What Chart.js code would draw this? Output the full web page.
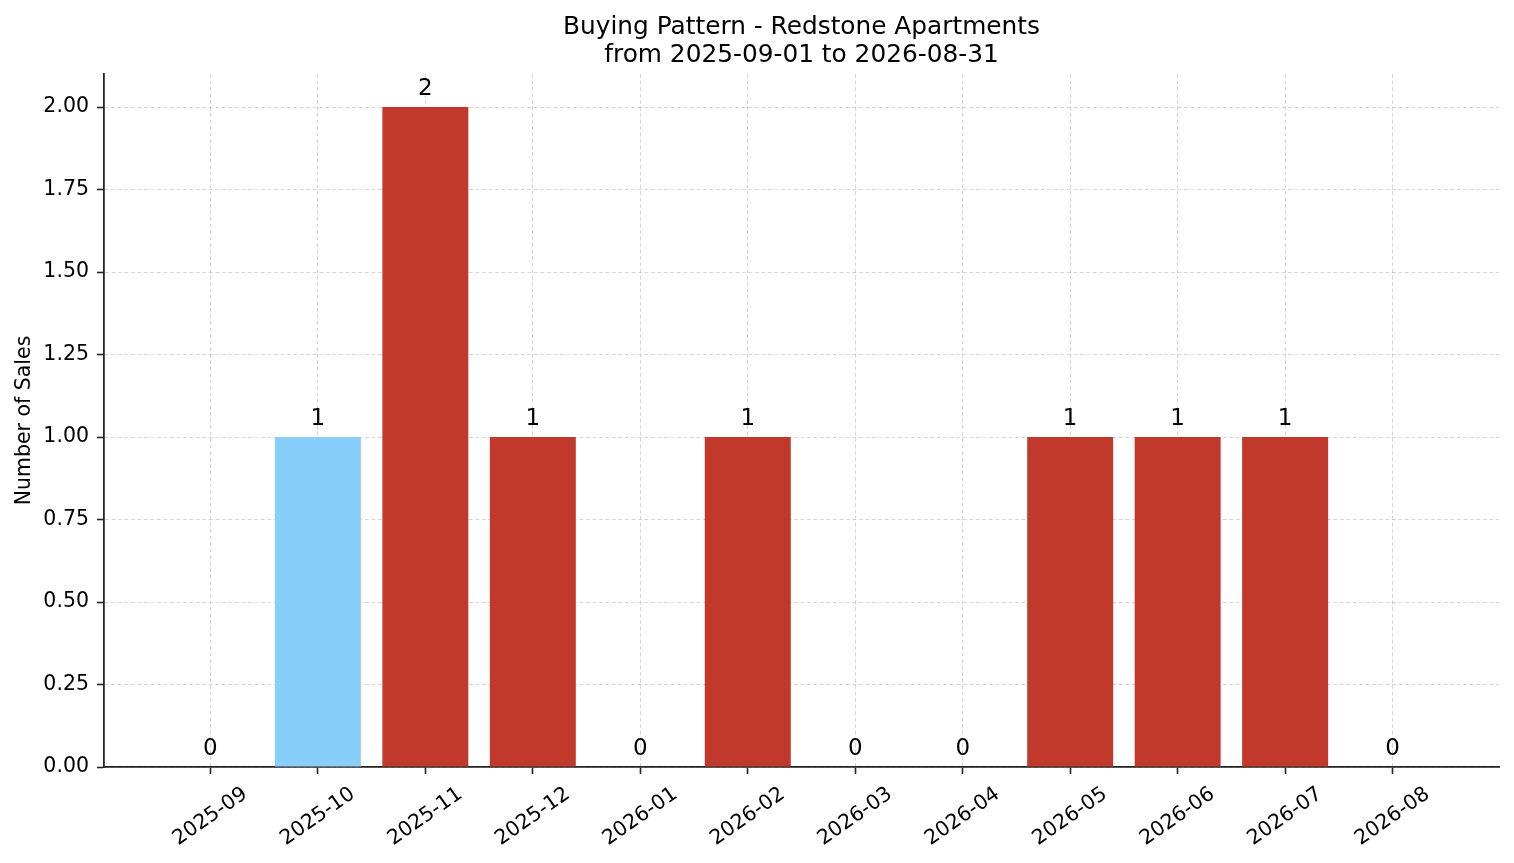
<!DOCTYPE html>
<html>
<head>
<meta charset="utf-8">
<script src="https://cdn.jsdelivr.net/npm/chart.js@4.4.1/dist/chart.umd.min.js"></script>
<style>
  html, body { margin: 0; padding: 0; background: #fff; }
  #wrap { width: 1514px; height: 863px; position: relative; }
</style>
</head>
<body>
<div id="wrap"><canvas id="c"></canvas></div>
<script>
const TITLE_LINES = ['Buying Pattern - Redstone Apartments', 'from 2025-09-01 to 2026-08-31'];
const Y_TITLE = 'Number of Sales';
const MONTHS = ['2025-09','2025-10','2025-11','2025-12','2026-01','2026-02','2026-03','2026-04','2026-05','2026-06','2026-07','2026-08'];
const SALES = [0, 1, 2, 1, 0, 1, 0, 0, 1, 1, 1, 0];
const Y_TICKS = [0, 0.25, 0.5, 0.75, 1.0, 1.25, 1.5, 1.75, 2.0];
const HIGHLIGHT_INDEX = 1;
const BAR_COLOR = '#C0392B';
const HIGHLIGHT_COLOR = '#87CEFA';

const FONT = "'DejaVu Sans', sans-serif";
const colors = SALES.map((_, i) => i === HIGHLIGHT_INDEX ? HIGHLIGHT_COLOR : BAR_COLOR);

const titlePlugin = {
  id: 'mplTitle',
  afterDraw(chart) {
    const ctx = chart.ctx;
    const a = chart.chartArea;
    const cx = (a.left + a.right) / 2;
    ctx.save();
    ctx.fillStyle = '#000';
    ctx.font = '24.8px ' + FONT;
    ctx.textAlign = 'center';
    ctx.textBaseline = 'alphabetic';
    ctx.fillText(TITLE_LINES[0], cx, 34);
    ctx.fillText(TITLE_LINES[1], cx, 62);
    ctx.restore();
  }
};

const valueLabels = {
  id: 'valueLabels',
  afterDraw(chart) {
    const ctx = chart.ctx;
    const meta = chart.getDatasetMeta(0);
    ctx.save();
    ctx.fillStyle = '#000';
    ctx.font = '23px ' + FONT;
    ctx.textAlign = 'center';
    ctx.textBaseline = 'alphabetic';
    meta.data.forEach((el, i) => {
      ctx.fillText(String(SALES[i]), el.x, el.y - 12);
    });
    ctx.restore();
  }
};

const gridOpts = {
  color: 'rgba(180,180,180,0.55)',
  lineWidth: 1,
  offset: false,
  drawTicks: true,
  tickLength: 7,
  tickColor: '#262626',
  tickWidth: 1.6
};

new Chart(document.getElementById('c'), {
  type: 'bar',
  data: {
    datasets: [{
      data: SALES.map((v, i) => ({ x: i, y: v })),
      backgroundColor: colors,
      borderWidth: 0,
      barPercentage: 0.8,
      categoryPercentage: 1.0
    }]
  },
  options: {
    responsive: true,
    maintainAspectRatio: false,
    animation: false,
    layout: { padding: { top: 74, right: 15, left: 0, bottom: 0 } },
    plugins: {
      legend: { display: false },
      tooltip: { enabled: false },
      title: { display: false }
    },
    scales: {
      x: {
        type: 'linear',
        min: -0.99,
        max: 11.99,
        offset: false,
        z: 1,
        afterBuildTicks: s => { s.ticks = MONTHS.map((_, i) => ({ value: i })); },
        afterFit: s => { s.height = 96; },
        ticks: {
          autoSkip: false,
          minRotation: 35,
          maxRotation: 35,
          labelOffset: 35,
          padding: 8,
          color: '#000',
          font: { family: FONT, size: 20.5 },
          callback: v => MONTHS[v]
        },
        grid: gridOpts,
        border: { display: true, color: '#262626', width: 1.8, dash: [4, 2.5] }
      },
      y: {
        min: 0,
        max: 2.1,
        z: 1,
        afterBuildTicks: s => { s.ticks = Y_TICKS.map(v => ({ value: v })); },
        afterFit: s => { s.width = 104; },
        ticks: {
          padding: 8,
          color: '#000',
          font: { family: FONT, size: 20.5 },
          callback: v => Number(v).toFixed(2)
        },
        grid: gridOpts,
        border: { display: true, color: '#262626', width: 1.8, dash: [4, 2.5] },
        title: {
          display: true,
          text: Y_TITLE,
          color: '#000',
          font: { family: FONT, size: 20.5 },
          padding: { top: 12, bottom: 0 }
        }
      }
    }
  },
  plugins: [titlePlugin, valueLabels]
});
</script>
</body>
</html>
